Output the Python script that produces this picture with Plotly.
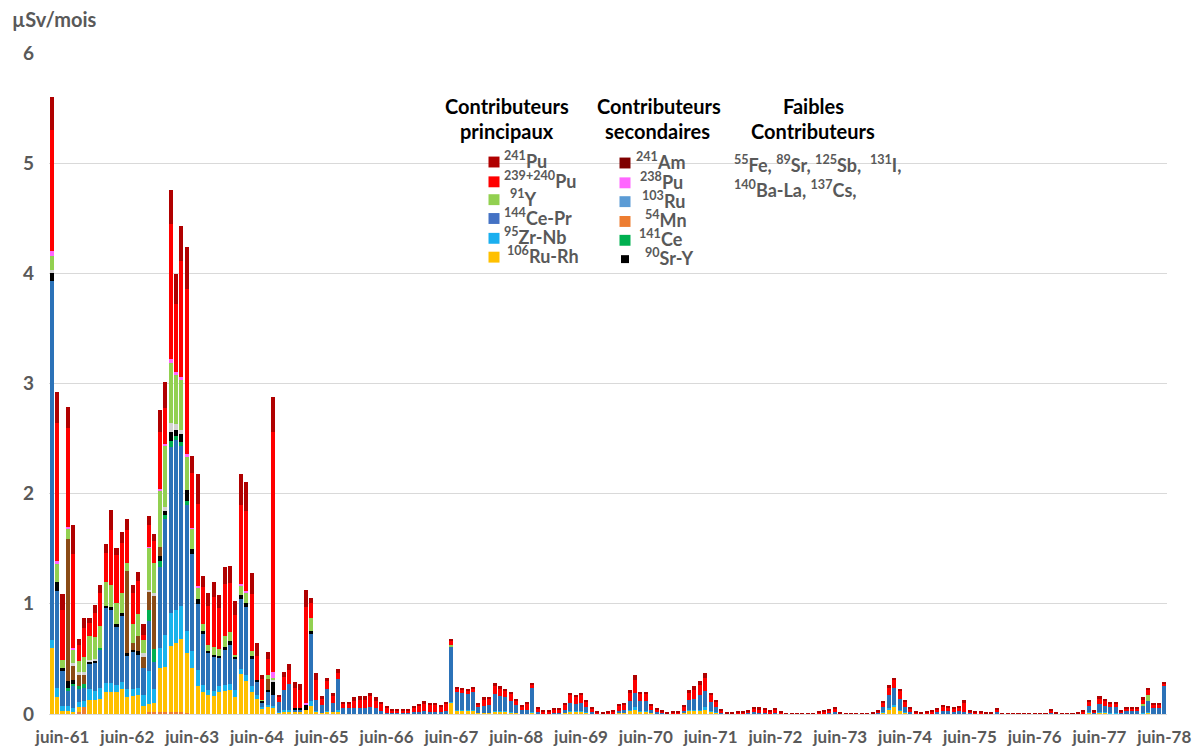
import plotly.graph_objects as go

# ---------------- categories ----------------
# monthly bars from avr-61 (index 0) to juin-78 (index 206)
n_months = 207
months = list(range(n_months))
tick_labels = ["juin-61", "juin-62", "juin-63", "juin-64", "juin-65", "juin-66",
               "juin-67", "juin-68", "juin-69", "juin-70", "juin-71", "juin-72",
               "juin-73", "juin-74", "juin-75", "juin-76", "juin-77", "juin-78"]
tick_positions = [2, 14, 26, 38, 50, 62, 74, 86, 98, 110, 122, 134, 146, 158, 170, 182, 194, 206]

# ---------------- series values (µSv/mois) ----------------
mn54 = [0, 0, 0, 0, 0, 0.02, 0.06, 0, 0, 0,
        0, 0, 0, 0, 0, 0, 0, 0, 0.02, 0.02,
        0.02, 0.02, 0.02, 0.02, 0.02, 0.01]

ru106 = [0.6, 0.15, 0.03, 0.03, 0.02, 0.04, 0, 0.13, 0.13, 0.14,
         0.2, 0.2, 0.2, 0.23, 0.15, 0.16, 0.17, 0.07, 0.07, 0.08,
         0.4, 0.41, 0.6, 0.62, 0.66, 0.54, 0.42, 0.25, 0.2, 0.17,
         0.16, 0.2, 0.21, 0.22, 0.15, 0.36, 0.3, 0.2, 0.14, 0.05,
         0.06, 0.05, 0.01, 0.02, 0.02, 0.02, 0.02, 0.04, 0.07, 0.02,
         0.01, 0.02, 0.02, 0.02, 0, 0, 0, 0, 0, 0,
         0, 0, 0, 0, 0, 0, 0, 0, 0, 0,
         0, 0, 0, 0, 0.1, 0.03, 0.03, 0.03, 0.03, 0.01,
         0.01, 0.01, 0.02, 0.02, 0.02, 0.01, 0.01, 0, 0, 0.01,
         0, 0, 0, 0, 0, 0.01, 0.02, 0.02, 0.02, 0.01,
         0, 0, 0, 0, 0, 0.005, 0.01, 0.03, 0.04, 0.02,
         0.02, 0.01, 0, 0, 0, 0, 0, 0.005, 0.03, 0.03,
         0.03, 0.04, 0.02, 0.01, 0, 0, 0, 0, 0, 0,
         0, 0, 0, 0, 0, 0, 0, 0, 0, 0,
         0, 0, 0, 0, 0, 0, 0, 0, 0, 0,
         0, 0, 0, 0, 0.01, 0.04, 0.06, 0.03, 0.01, 0,
         0, 0, 0, 0, 0, 0, 0, 0, 0, 0,
         0, 0, 0, 0, 0, 0, 0, 0, 0, 0,
         0, 0, 0, 0, 0, 0, 0, 0, 0, 0,
         0, 0, 0.01, 0, 0.01, 0.01, 0.005, 0.005, 0, 0,
         0, 0, 0.005, 0.01, 0, 0, 0]

zr95 = [0.07, 0.09, 0.04, 0.04, 0.03, 0.05, 0.06, 0.1, 0.08, 0.1,
        0.08, 0.08, 0.06, 0.06, 0.08, 0.07, 0.07, 0.1, 0.3, 0.13,
        0.18, 0.29, 0.3, 0.3, 0.3, 0.2, 0.15, 0.15, 0.06, 0.05,
        0.05, 0.05, 0.05, 0.05, 0.07, 0.05, 0.05, 0.05, 0.03, 0.01,
        0.02, 0.02, 0.01, 0.02, 0.02, 0, 0, 0, 0.05, 0.01,
        0, 0.01, 0, 0.02, 0, 0, 0, 0, 0, 0,
        0, 0, 0, 0, 0, 0, 0, 0, 0, 0,
        0, 0, 0, 0, 0.01, 0.01, 0.01, 0.01, 0.01, 0,
        0, 0, 0.01, 0.01, 0.01, 0.01, 0, 0, 0, 0.01,
        0, 0, 0, 0, 0, 0, 0.01, 0.01, 0.01, 0.005,
        0, 0, 0, 0, 0, 0, 0, 0.01, 0.02, 0.01,
        0.01, 0, 0, 0, 0, 0, 0, 0, 0.01, 0.01,
        0.01, 0.02, 0.01, 0.005, 0, 0, 0, 0, 0, 0,
        0, 0, 0, 0, 0, 0, 0, 0, 0, 0,
        0, 0, 0, 0, 0, 0, 0, 0, 0, 0,
        0, 0, 0, 0, 0.005, 0.01, 0.02, 0.01, 0.005, 0,
        0, 0, 0, 0, 0, 0, 0, 0, 0, 0,
        0, 0, 0, 0, 0, 0, 0, 0, 0, 0,
        0, 0, 0, 0, 0, 0, 0, 0, 0, 0,
        0, 0, 0.005, 0, 0.01, 0.005, 0.005, 0.005, 0, 0,
        0, 0, 0.005, 0.01, 0, 0, 0]

ce144 = [3.26, 0.88, 0.32, 0.14, 0.2, 0.12, 0.12, 0.22, 0.25, 0.34,
         0.68, 0.66, 0.53, 0.6, 0.3, 0.33, 0.3, 0.25, 0.45, 0.24,
         0.73, 1.05, 1.5, 1.55, 1.45, 1.15, 0.88, 0.6, 0.47, 0.33,
         0.31, 0.26, 0.32, 0.36, 0.28, 0.63, 0.62, 0.25, 0.12, 0.04,
         0.12, 0.1, 0.09, 0.18, 0.23, 0.02, 0.02, 0, 0.61, 0.1,
         0.07, 0.2, 0.08, 0.28, 0.05, 0.05, 0.05, 0.05, 0.05, 0.06,
         0.05, 0.03, 0.01, 0.01, 0.01, 0.01, 0.01, 0.015, 0.02, 0.03,
         0.02, 0.02, 0.015, 0.03, 0.5, 0.16, 0.155, 0.14, 0.16, 0.05,
         0.06, 0.07, 0.15, 0.13, 0.12, 0.1, 0.07, 0.035, 0.04, 0.22,
         0.02, 0.005, 0.005, 0.01, 0.01, 0.03, 0.07, 0.06, 0.07, 0.045,
         0.016, 0, 0, 0, 0.005, 0.025, 0.03, 0.08, 0.13, 0.09,
         0.09, 0.03, 0.014, 0.006, 0, 0, 0, 0.02, 0.09, 0.1,
         0.13, 0.15, 0.08, 0.05, 0.01, 0, 0, 0, 0, 0.006,
         0.016, 0.01, 0.01, 0, 0.01, 0, 0, 0, 0, 0,
         0, 0, 0, 0.004, 0.01, 0.02, 0, 0, 0, 0,
         0, 0, 0, 0.006, 0.045, 0.12, 0.16, 0.1, 0.045, 0.02,
         0, 0, 0, 0.005, 0.015, 0.025, 0.025, 0.02, 0.025, 0.02,
         0.006, 0, 0, 0, 0, 0.02, 0, 0, 0, 0,
         0, 0, 0, 0, 0, 0.005, 0, 0, 0, 0,
         0, 0.008, 0.055, 0.01, 0.07, 0.06, 0.05, 0.05, 0.01, 0.03,
         0.03, 0.03, 0.07, 0.1, 0.05, 0.05, 0.25]

ce141 = [0, 0, 0, 0.03, 0.02, 0.02, 0.03, 0, 0, 0.02,
         0, 0, 0, 0, 0, 0, 0, 0, 0.1, 0.12,
         0.06, 0.04, 0.06, 0.03, 0.04, 0.03]

sr90 = [0.07, 0.08, 0.03, 0.06, 0.04, 0, 0, 0.02, 0.02, 0,
        0.02, 0.03, 0.03, 0.03, 0.02, 0.02, 0.03, 0, 0, 0,
        0.04, 0.03, 0.08, 0.06, 0.07, 0.1, 0.05, 0.04, 0.02, 0.02,
        0.02, 0.02, 0.03, 0.03, 0.02, 0.04, 0.04, 0.03, 0.02, 0.02,
        0.02, 0.12, 0, 0, 0, 0.01, 0.01, 0.05, 0.02]

sr89 = [0, 0, 0, 1.29, 0.13, 0.1, 0.08, 0, 0, 0,
        0, 0, 0, 0, 0.75, 0.06, 0.14, 0.1, 0.17, 0.48,
        0.09, 0, 0, 0, 0, 0, 0, 0, 0, 0,
        0, 0, 0, 0, 0, 0, 0, 0, 0, 0,
        0.1]

cs137 = [0.03, 0, 0, 0, 0.02, 0.03, 0.03, 0.02, 0.02, 0,
         0, 0, 0, 0, 0, 0, 0, 0.03, 0.02, 0.03,
         0, 0.04, 0.08, 0.05, 0.04, 0, 0, 0, 0, 0,
         0, 0, 0, 0, 0, 0, 0, 0, 0, 0,
         0, 0.02]

y91 = [0.13, 0.16, 0.07, 0.09, 0.12, 0.1, 0.14, 0.22, 0.2, 0.2,
       0.22, 0.2, 0.19, 0.18, 0.07, 0.18, 0.2, 0.12, 0.38, 0.27,
       0.5, 0.55, 0.55, 0.45, 0.45, 0.3, 0.18, 0.1, 0.07, 0.06,
       0.07, 0.06, 0.1, 0.08, 0.02, 0.08, 0.09, 0.04, 0, 0.01,
       0.03, 0.02, 0, 0, 0, 0, 0, 0, 0.12, 0,
       0, 0, 0, 0, 0, 0, 0, 0, 0, 0,
       0, 0, 0, 0, 0, 0, 0, 0, 0, 0,
       0, 0, 0, 0, 0.02, 0, 0, 0, 0, 0,
       0, 0, 0, 0, 0, 0, 0, 0, 0, 0,
       0, 0, 0, 0, 0, 0, 0, 0, 0, 0,
       0, 0, 0, 0, 0, 0, 0, 0, 0, 0,
       0, 0, 0, 0, 0, 0, 0, 0, 0, 0,
       0, 0, 0, 0, 0, 0, 0, 0, 0, 0,
       0, 0, 0, 0, 0, 0, 0, 0, 0, 0,
       0, 0, 0, 0, 0, 0, 0, 0, 0, 0,
       0, 0, 0, 0, 0, 0, 0, 0, 0, 0,
       0, 0, 0, 0, 0, 0, 0, 0, 0, 0,
       0, 0, 0, 0, 0, 0, 0, 0, 0, 0,
       0, 0, 0, 0, 0, 0, 0, 0, 0, 0,
       0, 0, 0, 0, 0, 0, 0, 0, 0, 0,
       0, 0, 0.01, 0.05, 0, 0, 0]

pu238 = [0.04, 0.03, 0, 0.02, 0.02, 0, 0, 0, 0, 0,
         0, 0, 0, 0, 0, 0, 0, 0, 0.01, 0,
         0.02, 0.02, 0.03, 0.02, 0.03, 0.03, 0.01, 0.02, 0, 0,
         0, 0, 0, 0, 0, 0.02, 0.02, 0, 0, 0,
         0, 0.05, 0, 0, 0, 0, 0, 0.01]

pu239_240 = [1.1, 1.25, 0.45, 0.9, 0.85, 0.15, 0.26, 0.12, 0.22, 0.3,
             0.26, 0.5, 0.43, 0.45, 0.3, 0.28, 0.3, 0.05, 0.2, 0.2,
             0.52, 0.33, 1.23, 0.62, 1.05, 1.5, 0.5, 0.75, 0.33, 0.35,
             0.45, 0.37, 0.47, 0.45, 0.36, 0.72, 0.72, 0.52, 0.22, 0.19,
             0.15, 2.18, 0.05, 0.12, 0.13, 0.19, 0.17, 0.87, 0.14, 0.18,
             0.06, 0.07, 0.06, 0.05, 0.04, 0.04, 0.07, 0.08, 0.08, 0.1,
             0.07, 0.06, 0.04, 0.02, 0.02, 0.02, 0.025, 0.04, 0.05, 0.065,
             0.06, 0.06, 0.045, 0.06, 0.03, 0.03, 0.03, 0.03, 0.03, 0.03,
             0.06, 0.055, 0.07, 0.065, 0.06, 0.06, 0.045, 0.035, 0.05, 0.03,
             0.03, 0.015, 0.015, 0.03, 0.03, 0.045, 0.07, 0.06, 0.07, 0.05,
             0.035, 0.012, 0.009, 0.012, 0.015, 0.045, 0.045, 0.07, 0.12, 0.06,
             0.06, 0.035, 0.025, 0.02, 0.006, 0.014, 0.014, 0.04, 0.065, 0.08,
             0.095, 0.12, 0.06, 0.045, 0.025, 0.009, 0.007, 0.012, 0.012, 0.02,
             0.035, 0.035, 0.03, 0.022, 0.03, 0.014, 0.004, 0.003, 0.003, 0.003,
             0.004, 0.004, 0.012, 0.016, 0.025, 0.028, 0.006, 0.004, 0.003, 0.003,
             0.003, 0.004, 0.009, 0.02, 0.045, 0.065, 0.065, 0.065, 0.05, 0.03,
             0.014, 0.007, 0.012, 0.015, 0.027, 0.04, 0.035, 0.032, 0.035, 0.08,
             0.02, 0.012, 0.012, 0.009, 0.006, 0.022, 0.005, 0.003, 0.003, 0.003,
             0.003, 0.003, 0.003, 0.003, 0.003, 0.025, 0.009, 0.005, 0.003, 0.003,
             0.007, 0.014, 0.045, 0.016, 0.05, 0.045, 0.035, 0.035, 0.016, 0.024,
             0.024, 0.024, 0.045, 0.05, 0.035, 0.035, 0.025]

pu241 = [0.3, 0.28, 0.15, 0.19, 0.27, 0.05, 0.09, 0.04, 0.07, 0.07,
         0.08, 0.18, 0.07, 0.1, 0.1, 0.07, 0.08, 0.1, 0.08, 0.06,
         0.2, 0.23, 0.31, 0.27, 0.32, 0.38, 0.15, 0.27, 0.1, 0.12,
         0.14, 0.12, 0.15, 0.15, 0.13, 0.28, 0.27, 0.19, 0.11, 0.03,
         0.06, 0.32, 0.01, 0.04, 0.05, 0.05, 0.05, 0.16, 0.04, 0.06,
         0.02, 0.03, 0.03, 0.04, 0.02, 0.02, 0.03, 0.03, 0.03, 0.03,
         0.03, 0.02, 0.02, 0.01, 0.01, 0.01, 0.01, 0.015, 0.02, 0.025,
         0.02, 0.02, 0.02, 0.02, 0.02, 0.01, 0.01, 0.01, 0.01, 0.01,
         0.02, 0.02, 0.03, 0.025, 0.02, 0.02, 0.015, 0.015, 0.02, 0.01,
         0.01, 0.01, 0.01, 0.01, 0.01, 0.015, 0.02, 0.02, 0.02, 0.015,
         0.015, 0.008, 0.006, 0.008, 0.01, 0.015, 0.015, 0.03, 0.04, 0.02,
         0.02, 0.015, 0.015, 0.01, 0.004, 0.01, 0.01, 0.015, 0.025, 0.03,
         0.035, 0.04, 0.02, 0.015, 0.01, 0.006, 0.005, 0.008, 0.008, 0.01,
         0.015, 0.015, 0.014, 0.014, 0.014, 0.01, 0.002, 0.001, 0.001, 0.001,
         0.002, 0.002, 0.008, 0.01, 0.01, 0.012, 0.004, 0.002, 0.001, 0.001,
         0.001, 0.002, 0.006, 0.01, 0.015, 0.025, 0.025, 0.025, 0.02, 0.016,
         0.01, 0.005, 0.008, 0.01, 0.012, 0.015, 0.015, 0.014, 0.015, 0.03,
         0.01, 0.008, 0.008, 0.006, 0.004, 0.012, 0.003, 0.001, 0.001, 0.001,
         0.001, 0.001, 0.001, 0.001, 0.001, 0.015, 0.006, 0.004, 0.001, 0.001,
         0.005, 0.008, 0.015, 0.01, 0.02, 0.015, 0.015, 0.015, 0.01, 0.012,
         0.012, 0.012, 0.015, 0.02, 0.015, 0.015, 0.015]

# stacking order bottom -> top, with colours
series = [
    ("54Mn", mn54, "#ED7D31"),
    ("106Ru-Rh", ru106, "#FFC000"),
    ("95Zr-Nb", zr95, "#19B3EC"),
    ("144Ce-Pr", ce144, "#2B72B8"),
    ("141Ce", ce141, "#00B050"),
    ("90Sr-Y", sr90, "#000000"),
    ("89Sr", sr89, "#8A4B16"),
    ("137Cs", cs137, "#D3D3D3"),
    ("91Y", y91, "#92D050"),
    ("238Pu", pu238, "#FF66FF"),
    ("239+240Pu", pu239_240, "#FF0000"),
    ("241Pu", pu241, "#B00000"),
]

fig = go.Figure()
for name, vals, col in series:
    fig.add_trace(go.Bar(x=months[:len(vals)], y=vals, name=name,
                         marker=dict(color=col, line=dict(width=0)),
                         showlegend=False))

# ---------------- layout geometry ----------------
# the page body adds an 8 px offset; all targets below are page pixels
OFF = 8
W, H = 1202, 751
plot_left, plot_right, plot_top, plot_bottom = 49, 1167, 53, 720
L = plot_left - OFF
T = plot_top - OFF
R = W - (plot_right - OFF)
B = H - (plot_bottom - OFF)
pw, ph = W - L - R, H - T - B


def px(xp):
    return (xp - plot_left) / pw


def py(yp):
    return (plot_bottom - yp) / ph


grey_txt = "#595959"
fnt = "Lato, Open Sans, sans-serif"

fig.update_layout(
    width=W, height=H,
    margin=dict(l=L, r=R, t=T, b=B),
    barmode="stack", bargap=0.25,
    plot_bgcolor="white", paper_bgcolor="white",
    font=dict(family=fnt),
    xaxis=dict(range=[-0.5, n_months - 0.5], tickmode="array",
               tickvals=tick_positions, ticktext=tick_labels,
               tickfont=dict(family=fnt, size=17, color=grey_txt, weight="bold"),
               showgrid=False, zeroline=False, showline=True, linecolor="#D9D9D9",
               ticks="", ticklabelstandoff=8),
    yaxis=dict(range=[0, 6], dtick=1, tickmode="linear",
               tickfont=dict(family=fnt, size=19, color=grey_txt, weight="bold"),
               gridcolor="#D9D9D9", gridwidth=1, zeroline=False, showline=False,
               ticks="", ticklabelstandoff=14),
)

ann = []
shapes = []

# unit label
ann.append(dict(text="<b>µSv/mois</b>", x=px(10), y=py(19), xref="paper", yref="paper",
                xanchor="left", yanchor="middle", showarrow=False,
                font=dict(family=fnt, size=20, color=grey_txt)))

# legend headers
headers = [("Contributeurs", 507, 106), ("principaux", 507, 132),
           ("Contributeurs", 659, 106), ("secondaires", 657, 132),
           ("Faibles", 813, 106), ("Contributeurs", 813, 132)]
for t, xx, yy in headers:
    ann.append(dict(text=f"<b>{t}</b>", x=px(xx), y=py(yy), xref="paper", yref="paper",
                    xanchor="center", yanchor="middle", showarrow=False,
                    font=dict(family=fnt, size=20, color="black")))

# legend items: (label html, text x, y, square x, colour)
items = [
    ("<sup>241</sup>Pu", 502, 161, 494, "#B00000"),
    ("<sup>239+240</sup>Pu", 502, 181, 494, "#FF0000"),
    ("<sup>91</sup>Y", 508, 199, 494, "#92D050"),
    ("<sup>144</sup>Ce-Pr", 502, 218, 494, "#4472C4"),
    ("<sup>95</sup>Zr-Nb", 502, 238, 494, "#1AAFEF"),
    ("<sup>106</sup>Ru-Rh", 505, 257, 494, "#FFC000"),
    ("<sup>241</sup>Am", 634, 162, 625, "#7F0000"),
    ("<sup>238</sup>Pu", 638, 182, 625, "#FF66FF"),
    ("<sup>103</sup>Ru", 640, 201, 625, "#5B9BD5"),
    ("<sup>54</sup>Mn", 643, 221, 625, "#ED7D31"),
    ("<sup>141</sup>Ce", 637, 240, 625, "#00B050"),
    ("<sup>90</sup>Sr-Y", 643, 259, 625, "#000000"),
]
for lab, tx, ty, sx, col in items:
    ann.append(dict(text=f"<b>{lab}</b>", x=px(tx), y=py(ty), xref="paper", yref="paper",
                    xanchor="left", yanchor="middle", showarrow=False,
                    font=dict(family=fnt, size=18, color=grey_txt)))
    sq = 11 if col != "#000000" else 8
    shapes.append(dict(type="rect", xref="paper", yref="paper",
                       x0=px(sx - sq / 2), x1=px(sx + sq / 2),
                       y0=py(ty + 2 + sq / 2), y1=py(ty + 2 - sq / 2),
                       fillcolor=col, line=dict(width=0)))

weak = [("<sup>55</sup>Fe, <sup>89</sup>Sr, <sup>125</sup>Sb,  <sup>131</sup>I,", 732, 165),
        ("<sup>140</sup>Ba-La, <sup>137</sup>Cs,", 732, 190)]
for lab, tx, ty in weak:
    ann.append(dict(text=f"<b>{lab}</b>", x=px(tx), y=py(ty), xref="paper", yref="paper",
                    xanchor="left", yanchor="middle", showarrow=False,
                    font=dict(family=fnt, size=18, color=grey_txt)))

fig.update_layout(annotations=ann, shapes=shapes)

fig.write_html("out.html")
